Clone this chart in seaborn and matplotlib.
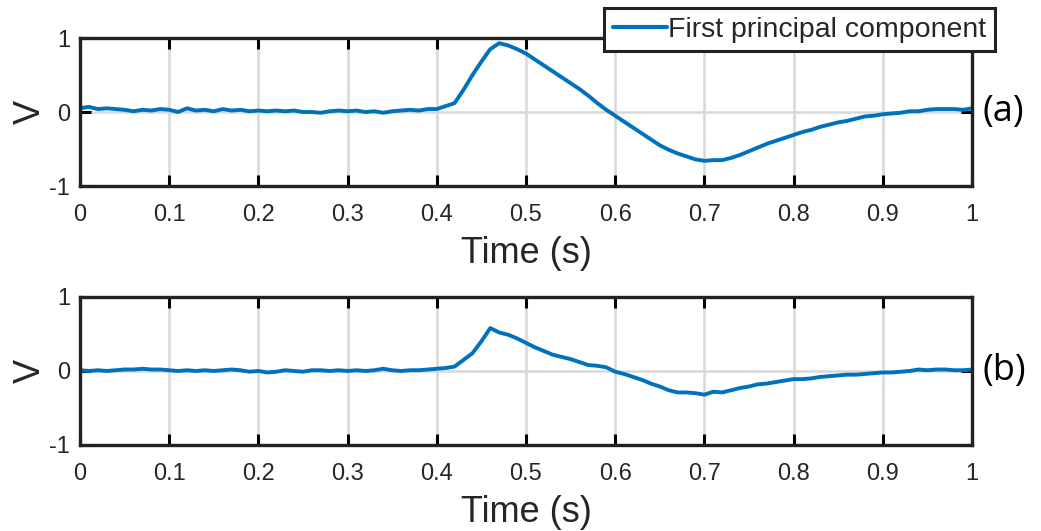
import numpy as np
import pandas as pd
import matplotlib
matplotlib.use("Agg")
import matplotlib.pyplot as plt
import seaborn as sns

# ---- data ----
time_s = [round(i * 0.01, 2) for i in range(101)]

pc_a = [0.05, 0.07, 0.04, 0.05, 0.04, 0.03, 0.01, 0.03, 0.02, 0.04,
        0.03, 0.00, 0.05, 0.02, 0.03, 0.01, 0.04, 0.02, 0.03, 0.01,
        0.02, 0.01, 0.02, 0.01, 0.02, 0.00, 0.00, -0.01, 0.01, 0.02,
        0.01, 0.02, 0.00, 0.01, -0.01, 0.01, 0.02, 0.03, 0.02, 0.04,
        0.04, 0.08, 0.12, 0.30, 0.50, 0.68, 0.85, 0.93, 0.90, 0.85,
        0.79, 0.71, 0.63, 0.55, 0.47, 0.39, 0.31, 0.22, 0.12, 0.03,
        -0.05, -0.13, -0.21, -0.29, -0.37, -0.45, -0.51, -0.56, -0.60, -0.64,
        -0.66, -0.65, -0.65, -0.62, -0.58, -0.53, -0.48, -0.43, -0.39, -0.35,
        -0.31, -0.27, -0.24, -0.20, -0.17, -0.14, -0.12, -0.09, -0.06, -0.05,
        -0.03, -0.02, -0.01, 0.01, 0.01, 0.03, 0.04, 0.04, 0.04, 0.03,
        0.05]

pc_b = [0.01, 0.00, 0.01, 0.00, 0.01, 0.02, 0.02, 0.03, 0.02, 0.02,
        0.01, 0.00, 0.01, 0.00, 0.01, 0.00, 0.01, 0.02, 0.01, -0.01,
        0.00, -0.02, -0.01, 0.01, 0.00, -0.01, 0.01, 0.01, 0.00, 0.01,
        0.00, 0.01, 0.00, 0.01, 0.03, 0.01, 0.00, 0.01, 0.01, 0.02,
        0.03, 0.04, 0.06, 0.15, 0.24, 0.40, 0.58, 0.52, 0.49, 0.44,
        0.38, 0.32, 0.27, 0.22, 0.19, 0.16, 0.12, 0.08, 0.07, 0.05,
        -0.01, -0.04, -0.08, -0.12, -0.17, -0.21, -0.26, -0.29, -0.29, -0.30,
        -0.32, -0.28, -0.29, -0.26, -0.23, -0.21, -0.18, -0.17, -0.15, -0.13,
        -0.11, -0.11, -0.10, -0.08, -0.07, -0.06, -0.05, -0.05, -0.04, -0.03,
        -0.02, -0.02, -0.01, 0.00, 0.02, 0.01, 0.02, 0.02, 0.01, 0.01,
        0.02]

x_ticks = [0, 0.1, 0.2, 0.3, 0.4, 0.5, 0.6, 0.7, 0.8, 0.9, 1]
x_tick_labels = ["0", "0.1", "0.2", "0.3", "0.4", "0.5", "0.6", "0.7", "0.8", "0.9", "1"]
y_ticks = [-1, 0, 1]
y_tick_labels = ["-1", "0", "1"]
panel_labels = ["(a)", "(b)"]
series_name = "First principal component"

# ---- style ----
sns.set_theme(style="white")
plt.rcParams["font.family"] = ["Liberation Sans", "DejaVu Sans"]

LINE_COLOR = "#0072BD"
TEXT_COLOR = "#262626"

fig = plt.figure(figsize=(10.41, 5.31), dpi=100)
ax_a = fig.add_axes([0.0768, 0.6497, 0.8569, 0.2787])
ax_b = fig.add_axes([0.0768, 0.1620, 0.8569, 0.2787])

df_a = pd.DataFrame({"t": time_s, "v": pc_a})
df_b = pd.DataFrame({"t": time_s, "v": pc_b})

for ax, df, lab in [(ax_a, df_a, panel_labels[0]), (ax_b, df_b, panel_labels[1])]:
    sns.lineplot(data=df, x="t", y="v", ax=ax, color=LINE_COLOR, linewidth=2.8,
                 label=series_name if ax is ax_a else None, legend=False, zorder=3)
    ax.set_xlim(0, 1)
    ax.set_ylim(-1, 1)
    ax.set_xticks(x_ticks)
    ax.set_xticklabels(x_tick_labels)
    ax.set_yticks(y_ticks)
    ax.set_yticklabels(y_tick_labels)
    ax.set_xlabel("Time (s)", fontsize=26, color=TEXT_COLOR, labelpad=7)
    ax.set_ylabel("V", fontsize=26, color=TEXT_COLOR, labelpad=1)
    ax.tick_params(axis="x", pad=13)
    ax.tick_params(axis="y", pad=7)
    ax.tick_params(axis="both", direction="in", length=8, width=2.2,
                   labelsize=17, labelcolor=TEXT_COLOR, color="black",
                   top=True, right=True, bottom=True, left=True)
    ax.grid(True, color="#d8d8d8", linewidth=1.8)
    ax.set_axisbelow(True)
    for s in ax.spines.values():
        s.set_visible(True)
        s.set_color("#222222")
        s.set_linewidth(2.4)
        s.set_zorder(4)
    ax.text(1.012, 0.5, lab, transform=ax.transAxes, ha="left", va="center",
            fontsize=26, family=["Open Sans", "DejaVu Sans"], color="black")

handles, labels = ax_a.get_legend_handles_labels()
leg = ax_a.legend(handles, labels, loc="upper right", bbox_to_anchor=(1.0257, 1.203),
                  borderaxespad=0, fontsize=20.5, frameon=True, fancybox=False,
                  handlelength=1.9, handletextpad=0.05, borderpad=0.3,
                  framealpha=1)
leg.get_frame().set_edgecolor("#222222")
leg.get_frame().set_linewidth(2.2)
leg.set_zorder(10)
for line in leg.get_lines():
    line.set_linewidth(3)

fig.savefig("out.png", dpi=100, facecolor="white")
